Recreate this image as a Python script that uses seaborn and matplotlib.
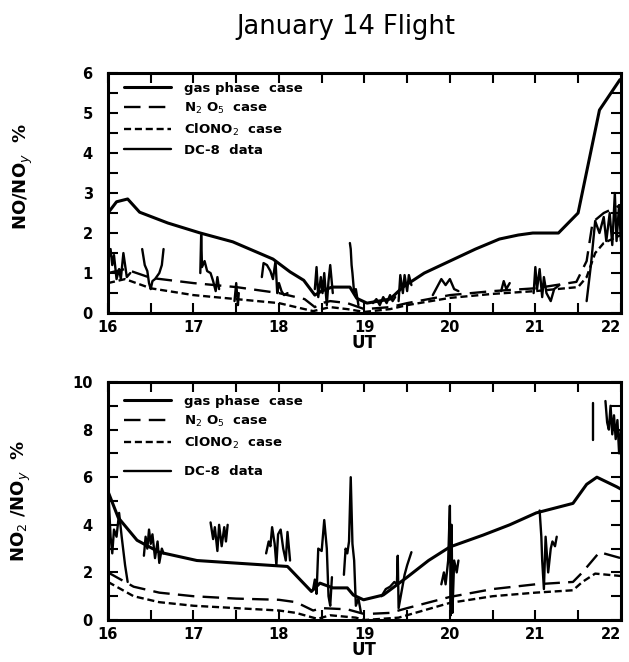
import numpy as np
import pandas as pd
import matplotlib
matplotlib.use("Agg")
import matplotlib.pyplot as plt
import seaborn as sns
from matplotlib.lines import Line2D
from matplotlib.ticker import MultipleLocator

sns.set_theme(style="white")
plt.rcParams['font.family'] = ['DejaVu Sans']
plt.rcParams.update({
    'xtick.direction': 'in', 'ytick.direction': 'in',
    'xtick.bottom': True, 'xtick.top': True, 'ytick.left': True, 'ytick.right': True,
    'xtick.major.size': 7, 'ytick.major.size': 7,
    'xtick.minor.size': 7, 'ytick.minor.size': 7,
    'xtick.major.width': 1.5, 'ytick.major.width': 1.5,
    'xtick.minor.width': 1.5, 'ytick.minor.width': 1.5,
    'xtick.color': 'black', 'ytick.color': 'black',
    'axes.edgecolor': 'black', 'text.color': 'black', 'axes.labelcolor': 'black',
})

# ---------------- Top panel: NO/NOy ----------------
gas_top_x = [16.0, 16.1, 16.23, 16.37, 16.7, 17.08, 17.46, 17.93, 18.13, 18.29, 18.42, 18.5, 18.62, 18.83, 18.91, 19.03, 19.3, 19.45, 19.7, 20.0, 20.3, 20.58, 20.8, 20.97, 21.27, 21.5, 21.75, 21.99]
gas_top_y = [2.5, 2.78, 2.85, 2.52, 2.25, 2.0, 1.78, 1.35, 1.03, 0.82, 0.45, 0.55, 0.65, 0.65, 0.37, 0.25, 0.35, 0.65, 1.0, 1.3, 1.6, 1.85, 1.95, 2.0, 2.0, 2.5, 5.07, 5.83]

n2o5_top_x = [16.0, 16.2, 16.5, 17.0, 17.5, 18.0, 18.3, 18.42, 18.5, 18.6, 18.8, 19.0, 19.3, 19.5, 20.0, 20.5, 21.0, 21.48, 21.6, 21.67, 21.8, 22.0]
n2o5_top_y = [1.0, 1.1, 0.88, 0.75, 0.65, 0.5, 0.35, 0.15, 0.25, 0.3, 0.25, 0.1, 0.15, 0.25, 0.45, 0.55, 0.62, 0.78, 1.3, 2.27, 2.5, 2.7]

clono2_top_x = [16.0, 16.2, 16.5, 17.0, 17.5, 18.0, 18.2, 18.4, 18.6, 18.8, 19.0, 19.3, 19.5, 20.0, 20.5, 21.0, 21.5, 21.6, 21.7, 21.8, 22.0]
clono2_top_y = [0.75, 0.85, 0.62, 0.45, 0.35, 0.25, 0.15, 0.05, 0.15, 0.1, 0.03, 0.1, 0.2, 0.38, 0.48, 0.55, 0.65, 0.9, 1.5, 1.75, 1.95]

dc8_top_seg = [1]*10 + [2]*10 + [3]*10 + [4]*4 + [5]*11 + [6]*10 + [7]*7 + [8]*8 + [9]*7 + [10]*7 + [11]*4 + [12]*10 + [13]*12
dc8_top_x = [16.0, 16.03, 16.05, 16.07, 16.1, 16.13, 16.15, 16.18, 16.22, 16.26,
             16.4, 16.43, 16.46, 16.48, 16.5, 16.52, 16.55, 16.6, 16.63, 16.65,
             17.08, 17.09, 17.1, 17.13, 17.16, 17.2, 17.23, 17.26, 17.28, 17.3,
             17.48, 17.5, 17.52, 17.53,
             17.8, 17.82, 17.86, 17.9, 17.93, 17.96, 17.98, 18.0, 18.03, 18.06, 18.1,
             18.42, 18.44, 18.46, 18.49, 18.51, 18.53, 18.56, 18.58, 18.6, 18.63,
             18.83, 18.84, 18.85, 18.86, 18.88, 18.9, 18.93,
             19.1, 19.14, 19.18, 19.22, 19.26, 19.3, 19.33, 19.36,
             19.4, 19.42, 19.45, 19.47, 19.5, 19.52, 19.55,
             19.8, 19.85, 19.9, 19.95, 20.0, 20.05, 20.1,
             20.6, 20.63, 20.66, 20.7,
             20.98, 21.0, 21.02, 21.05, 21.08, 21.1, 21.13, 21.18, 21.22, 21.28,
             21.6, 21.65, 21.7, 21.75, 21.8, 21.83, 21.87, 21.9, 21.93, 21.95, 21.98, 22.0]
dc8_top_y = [1.3, 1.6, 1.2, 1.45, 0.85, 1.1, 0.85, 1.5, 0.9, 1.0,
             1.6, 1.2, 1.05, 0.75, 0.6, 0.8, 0.85, 1.0, 1.2, 1.6,
             1.0, 1.95, 1.15, 1.3, 1.05, 1.0, 0.8, 0.55, 0.9, 0.6,
             0.3, 0.75, 0.2, 0.5,
             0.9, 1.25, 1.2, 1.05, 0.85, 1.3, 0.5, 0.75, 0.55, 0.45, 0.5,
             0.6, 1.15, 0.4, 0.9, 0.5, 1.0, 0.2, 0.8, 1.2, 0.5,
             1.75, 1.6, 1.2, 1.0, 0.5, 0.6, 0.2,
             0.25, 0.35, 0.2, 0.4, 0.25, 0.45, 0.3, 0.4,
             0.3, 0.95, 0.5, 0.95, 0.55, 0.95, 0.7,
             0.45, 0.65, 0.85, 0.7, 0.85, 0.6, 0.55,
             0.55, 0.8, 0.6, 0.75,
             0.5, 1.15, 0.6, 1.1, 0.4, 0.9, 0.5, 0.3, 0.6, 0.7,
             0.3, 1.2, 2.3, 2.0, 2.4, 1.8, 2.5, 1.7, 3.0, 1.8, 2.7, 1.8]

# ---------------- Bottom panel: NO2/NOy ----------------
gas_bot_x = [16.0, 16.12, 16.34, 16.6, 17.04, 17.46, 18.1, 18.38, 18.48, 18.63, 18.8, 18.87, 18.99, 19.22, 19.5, 19.75, 20.0, 20.39, 20.7, 21.01, 21.44, 21.6, 21.72, 21.95, 22.0]
gas_bot_y = [5.4, 4.3, 3.35, 2.85, 2.5, 2.4, 2.25, 1.2, 1.55, 1.35, 1.35, 1.05, 0.85, 1.05, 1.8, 2.5, 3.07, 3.57, 4.0, 4.5, 4.9, 5.7, 6.0, 5.6, 5.5]

n2o5_bot_x = [16.0, 16.3, 16.6, 17.0, 17.5, 18.0, 18.2, 18.4, 18.5, 18.8, 19.0, 19.3, 19.5, 20.0, 20.5, 21.0, 21.44, 21.55, 21.75, 22.0]
n2o5_bot_y = [2.0, 1.4, 1.15, 1.0, 0.9, 0.85, 0.75, 0.4, 0.5, 0.45, 0.25, 0.3, 0.5, 0.97, 1.3, 1.5, 1.6, 2.0, 2.85, 2.6]

clono2_bot_x = [16.0, 16.3, 16.6, 17.0, 17.5, 18.0, 18.2, 18.45, 18.6, 18.9, 19.0, 19.4, 20.0, 20.5, 21.0, 21.44, 21.55, 21.7, 22.0]
clono2_bot_y = [1.6, 1.0, 0.75, 0.6, 0.5, 0.4, 0.3, 0.05, 0.2, 0.1, 0.0, 0.1, 0.72, 1.0, 1.15, 1.25, 1.6, 1.95, 1.85]

dc8_bot_seg = [1]*10 + [2]*11 + [3]*9 + [4]*12 + [5]*10 + [6]*10 + [7]*10 + [8]*11 + [9]*10 + [10]*2 + [11]*10
dc8_bot_x = [16.0, 16.01, 16.03, 16.05, 16.07, 16.1, 16.13, 16.16, 16.2, 16.23,
             16.42, 16.44, 16.46, 16.48, 16.5, 16.52, 16.55, 16.58, 16.6, 16.63, 16.65,
             17.2, 17.23, 17.25, 17.28, 17.3, 17.33, 17.36, 17.38, 17.4,
             17.85, 17.88, 17.9, 17.92, 17.95, 17.97, 17.99, 18.02, 18.05, 18.08, 18.1, 18.13,
             18.4, 18.42, 18.44, 18.46, 18.5, 18.53, 18.56, 18.58, 18.6, 18.62,
             18.76, 18.78, 18.8, 18.82, 18.84, 18.86, 18.88, 18.9, 18.93, 18.96,
             19.2, 19.25, 19.3, 19.35, 19.38, 19.39, 19.4, 19.47, 19.5, 19.55,
             19.9, 19.93, 19.95, 19.98, 20.0, 20.01, 20.02, 20.03, 20.05, 20.08, 20.1,
             21.05, 21.07, 21.08, 21.1, 21.12, 21.15, 21.18, 21.2, 21.23, 21.25,
             21.68, 21.68,
             21.82, 21.84, 21.86, 21.88, 21.9, 21.92, 21.94, 21.96, 21.98, 22.0]
dc8_bot_y = [3.0, 5.0, 3.5, 2.8, 3.8, 3.5, 4.5, 3.5, 2.3, 1.6,
             2.7, 3.5, 3.0, 3.8, 3.2, 3.6, 2.6, 3.3, 2.4, 3.0, 2.8,
             4.1, 3.4, 3.9, 2.9, 4.0, 3.1, 3.9, 3.3, 4.0,
             2.8, 3.3, 3.1, 3.9, 3.2, 2.3, 3.6, 3.8, 3.0, 2.5, 3.7, 2.5,
             1.3, 1.7, 1.1, 3.0, 2.9, 4.2, 3.0, 1.0, 0.6, 1.8,
             1.9, 3.0, 2.8, 3.3, 6.0, 3.2, 2.5, 0.6, 0.9, 0.3,
             1.0, 1.3, 1.4, 1.6, 1.5, 2.7, 0.5, 1.9, 2.3, 2.85,
             1.5, 2.0, 1.5, 2.5, 4.8, 0.2, 4.0, 0.3, 2.5, 2.0, 2.5,
             4.6, 3.5, 2.5, 1.3, 3.5, 2.0, 3.0, 3.3, 3.1, 3.5,
             9.1, 7.55,
             9.2, 8.3, 8.0, 9.0, 7.8, 8.6, 7.6, 8.4, 7.0, 8.0]

legend_labels = ["gas phase  case", "N$_2$ O$_5$  case", "ClONO$_2$  case", "DC-8  data"]

fig = plt.figure(figsize=(6.29, 6.62), dpi=100)
fig.patch.set_facecolor("white")
ax1 = fig.add_axes([0.1717, 0.527, 0.8153, 0.363])
ax2 = fig.add_axes([0.1717, 0.0634, 0.8153, 0.3596])

N2O5_DASH = (7, 3.5)
CL_DASH = (3, 1.6)


def draw(ax, gx, gy, nx, ny, cx, cy, dx, dy, dseg):
    sns.lineplot(x=gx, y=gy, ax=ax, color="black", lw=2.2, estimator=None, sort=False)
    sns.lineplot(x=nx, y=ny, ax=ax, color="black", lw=1.7, estimator=None, sort=False)
    ax.lines[-1].set_dashes(N2O5_DASH)
    sns.lineplot(x=cx, y=cy, ax=ax, color="black", lw=1.7, estimator=None, sort=False)
    ax.lines[-1].set_dashes(CL_DASH)
    df = pd.DataFrame({"x": dx, "y": dy, "seg": dseg})
    sns.lineplot(data=df, x="x", y="y", units="seg", estimator=None, ax=ax,
                 color="black", lw=1.7, sort=False)


draw(ax1, gas_top_x, gas_top_y, n2o5_top_x, n2o5_top_y, clono2_top_x, clono2_top_y,
     dc8_top_x, dc8_top_y, dc8_top_seg)
draw(ax2, gas_bot_x, gas_bot_y, n2o5_bot_x, n2o5_bot_y, clono2_bot_x, clono2_bot_y,
     dc8_bot_x, dc8_bot_y, dc8_bot_seg)


def handles():
    return [Line2D([], [], color="black", lw=2.2),
            Line2D([], [], color="black", lw=1.7, dashes=N2O5_DASH),
            Line2D([], [], color="black", lw=1.7, dashes=CL_DASH),
            Line2D([], [], color="black", lw=1.7)]


leg_kw = dict(frameon=False, prop=dict(weight="bold", size=9.5), handlelength=3.6,
              labelspacing=0.45, handletextpad=1.0, borderaxespad=0.0)

for ax, ymax, ymaj, ymin in [(ax1, 6, 1, 0.5), (ax2, 10, 2, 1)]:
    ax.set_xlim(16, 22)
    ax.set_ylim(0, ymax)
    ax.xaxis.set_major_locator(MultipleLocator(1))
    ax.xaxis.set_minor_locator(MultipleLocator(0.5))
    ax.yaxis.set_major_locator(MultipleLocator(ymaj))
    ax.yaxis.set_minor_locator(MultipleLocator(ymin))
    ax.tick_params(which="both", direction="in", bottom=True, left=True, top=True, right=True,
                   width=1.5, length=7, color="black")
    ax.tick_params(which="major", labelsize=10.5)
    ax.tick_params(axis="y", which="major", pad=11)
    ax.tick_params(axis="x", which="major", pad=5)
    for s in ax.spines.values():
        s.set_linewidth(2.2)
        s.set_color("black")
        s.set_visible(True)
    ax.set_xlabel("UT", fontsize=12, fontweight="bold", labelpad=-1)

h = handles()
ax1.legend(h, legend_labels, loc="upper left", bbox_to_anchor=(0.02, 0.985), **leg_kw)
lg1 = ax2.legend(h[:3], legend_labels[:3], loc="upper left", bbox_to_anchor=(0.02, 0.967), **leg_kw)
ax2.add_artist(lg1)
ax2.legend(h[3:], legend_labels[3:], loc="upper left", bbox_to_anchor=(0.02, 0.672), **leg_kw)

ax1.set_ylabel("NO/NO$_y$  %", fontsize=13, fontweight="bold")
ax2.set_ylabel("NO$_2$ /NO$_y$  %", fontsize=13, fontweight="bold")
ax1.yaxis.set_label_coords(-0.142, 0.57)
ax2.yaxis.set_label_coords(-0.146, 0.50)

fig.text(0.55, 1 - 34 / 662, "January 14 Flight", ha="center", va="baseline", fontsize=18.5)

fig.canvas.draw()
for ax in (ax1, ax2):
    for lab in ax.get_xticklabels() + ax.get_yticklabels():
        lab.set_fontweight("bold")
        if lab.get_text() == "22":
            lab.set_horizontalalignment("right")
            lab.set_x(22.02)

fig.savefig("out.png", dpi=100, facecolor="white")
